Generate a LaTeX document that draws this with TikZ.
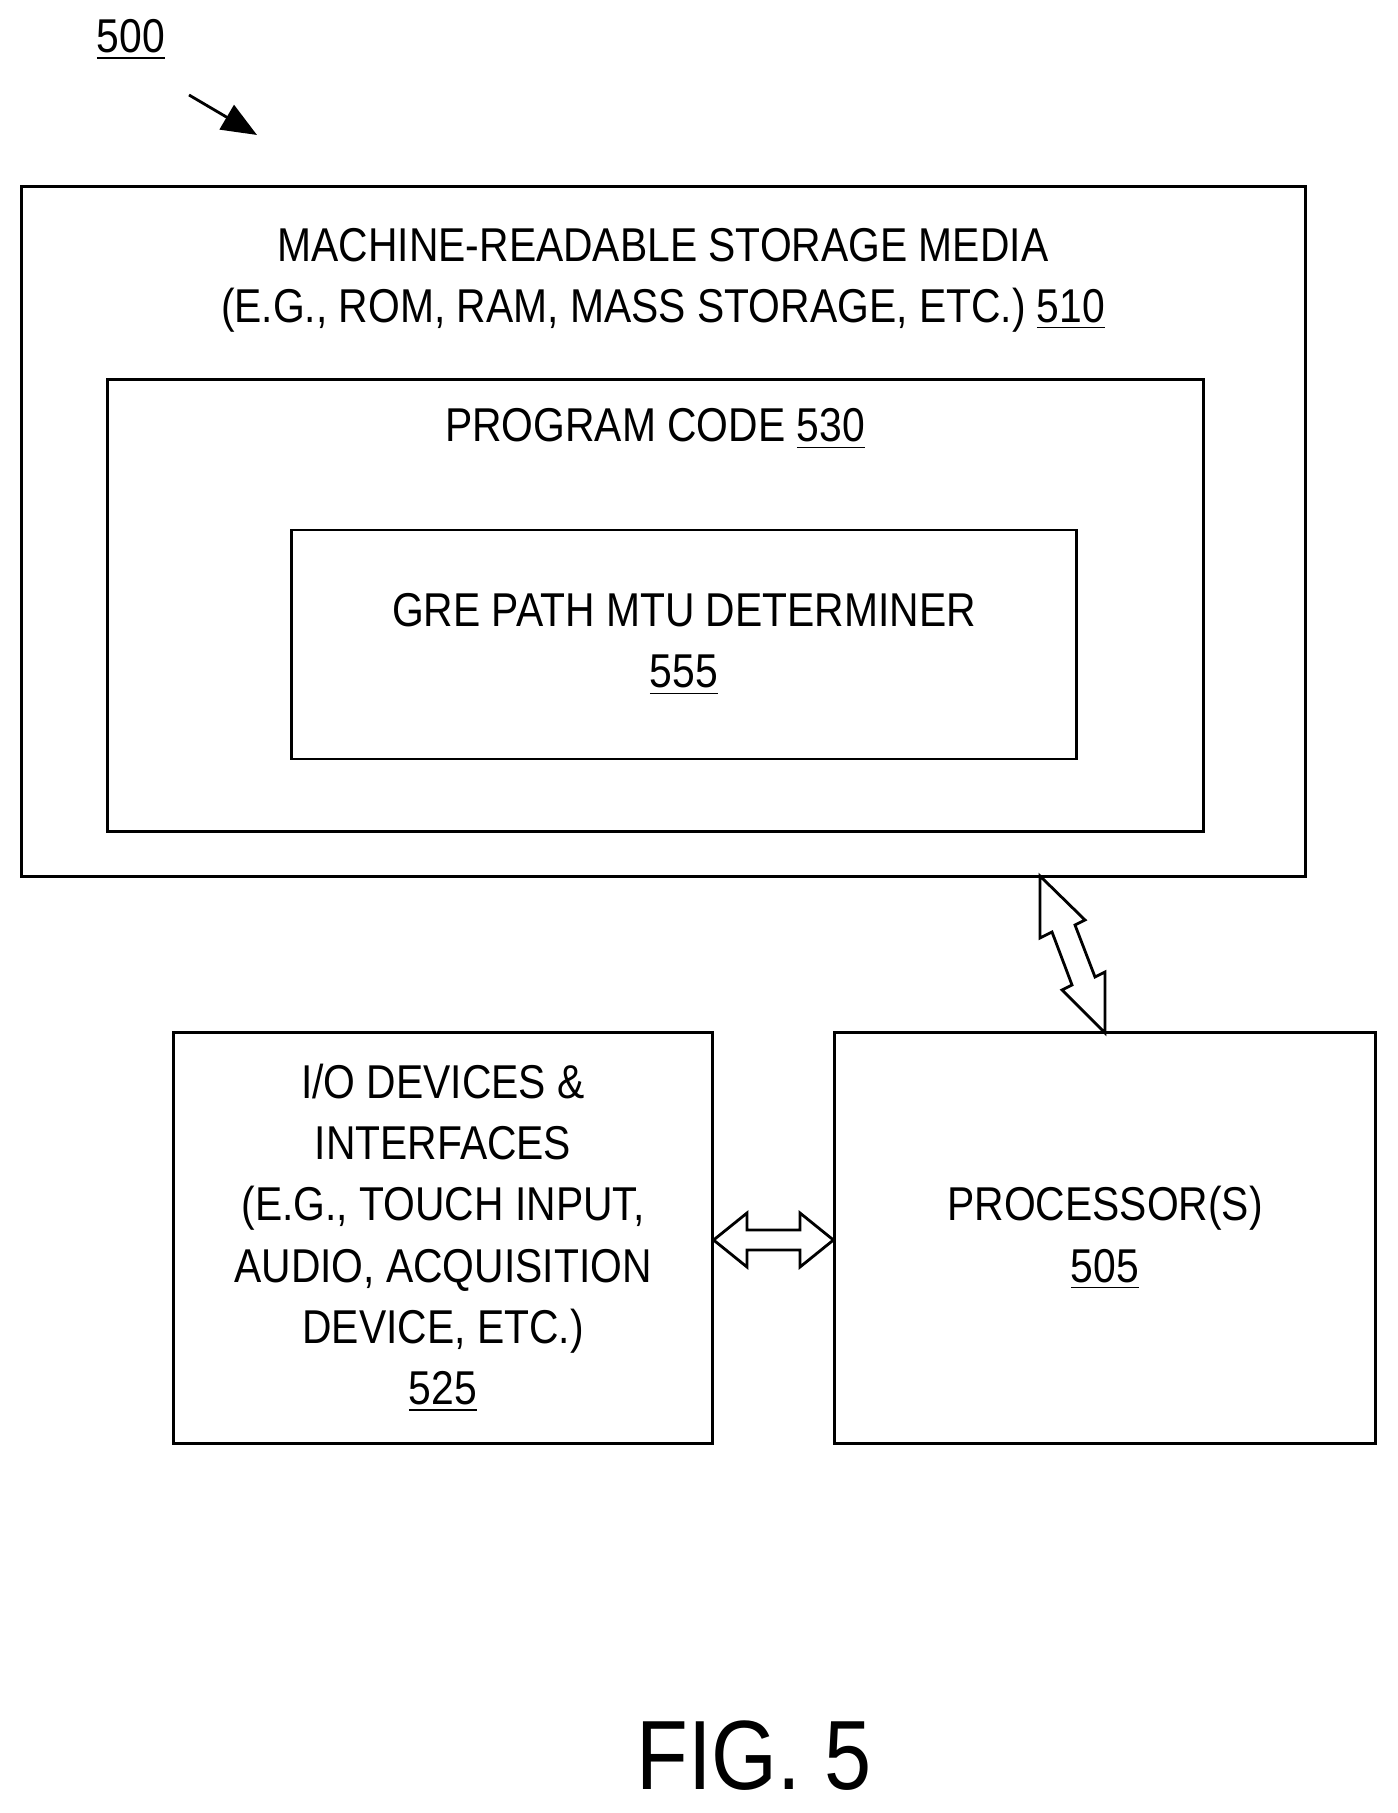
\documentclass[tikz,border=0pt]{standalone}
\usepackage{fontspec}
\setmainfont{Liberation Sans}[FakeStretch=0.86]
\usetikzlibrary{arrows.meta}
\tikzset{
  box/.style={draw, line width=0.8pt, rectangle, inner sep=0pt},
  lbl/.style={font=\fontsize{13.5}{17.4}\selectfont, align=center},
}
\begin{document}
\begin{tikzpicture}[x=0.01cm, y=-0.01cm, line join=miter]
  \useasboundingbox (0,0) rectangle (1397,1813);
  \node[lbl] (fignum) at (131,40) {\underline{500}};
  \coordinate (tail) at (189,95);
  \coordinate (head) at (257,135);
  \draw[line width=0.8pt, -{Triangle[length=10pt,width=8pt]}] (tail) -- (head);
%
  \node[box, minimum width=12.83cm, minimum height=6.89cm] (media) at (663.5,531.5) {};
  \node[lbl] (medialbl) at (663,280) {MACHINE-READABLE STORAGE MEDIA\\(E.G., ROM, RAM, MASS STORAGE, ETC.) \underline{510}};
  \node[box, minimum width=10.95cm, minimum height=4.51cm] (code) at (655.5,605.5) {};
  \node[lbl] (codelbl) at (655,429) {PROGRAM CODE \underline{530}};
  \node[box, minimum width=7.84cm, minimum height=2.29cm, lbl] (gre) at (684,644.5) {GRE PATH MTU DETERMINER\\\underline{555}};
%
  \node[box, minimum width=5.38cm, minimum height=4.10cm, lbl] (io) at (443,1238) {I/O DEVICES \&\\INTERFACES\\(E.G., TOUCH INPUT,\\AUDIO, ACQUISITION\\DEVICE, ETC.)\\\underline{525}};
  \node[box, minimum width=5.40cm, minimum height=4.10cm, lbl] (proc) at (1105,1238) {PROCESSOR(S)\\\underline{505}};
%
  \draw[line width=0.8pt] (io.east|-0,1240) -- (747,1213) -- (747,1230) -- (800,1230) -- (800,1213)
    -- (proc.west|-0,1240) -- (800,1267) -- (800,1250) -- (747,1250) -- (747,1267) -- cycle;
  \draw[line width=0.8pt] (1040,876) -- (1085,920) -- (1075,925) -- (1095,977) -- (1105,972)
    -- (1105,1033) -- (1062,990) -- (1072,985) -- (1052,932) -- (1040,938) -- cycle;
%
  \node[font=\fontsize{28}{34}\selectfont] (fig) at (754,1756) {FIG. 5};
\end{tikzpicture}
\end{document}
